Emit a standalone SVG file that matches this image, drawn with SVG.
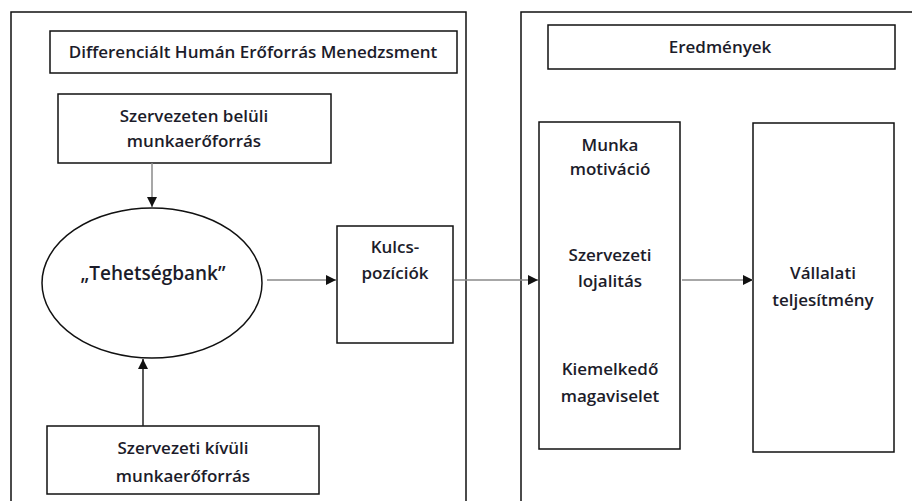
<svg xmlns="http://www.w3.org/2000/svg" width="912" height="501" viewBox="0 0 912 501">
  <style>
    .frame { fill: none; stroke: #111; stroke-width: 1.5; }
    .box { fill: #fff; stroke: #111; stroke-width: 1.5; }
    .lbl { font-family: "Open Sans", "Noto Sans", sans-serif; font-size: 17px; font-weight: 600; fill: #1c1c2a; text-anchor: middle; }
    .big { font-size: 19px; }
    .conn { fill: none; stroke: #8a8a8a; stroke-width: 1.5; marker-end: url(#arrow); }
    .conn.dark { stroke: #222; }
  </style>
  <defs>
    <marker id="arrow" viewBox="0 0 10 10" refX="10" refY="5" markerWidth="10" markerHeight="10" markerUnits="userSpaceOnUse" orient="auto">
      <path d="M0,0 L10,5 L0,10 Z" fill="#111"/>
    </marker>
  </defs>
  <rect width="912" height="501" fill="#fff"/>

  <!-- outer panels -->
  <g id="panel-hr">
    <path class="frame" d="M11,501 V12 H466 V501"/>
  </g>
  <g id="panel-results">
    <path class="frame" d="M521,501 V12 H913"/>
  </g>

  <!-- panel titles -->
  <g id="title-hr">
    <rect class="box" x="50" y="31" width="407" height="42"/>
    <text class="lbl" x="253" y="58">Differenciált Humán Erőforrás Menedzsment</text>
  </g>
  <g id="title-results">
    <rect class="box" x="548" y="25" width="347" height="44"/>
    <text class="lbl" x="720" y="53">Eredmények</text>
  </g>

  <!-- left-panel nodes -->
  <g id="internal-source">
    <rect class="box" x="58" y="94" width="273" height="69"/>
    <text class="lbl" x="194" y="122">Szervezeten belüli</text>
    <text class="lbl" x="194" y="147">munkaerőforrás</text>
  </g>
  <g id="talent-bank">
    <ellipse cx="152" cy="283" rx="110" ry="75" fill="#fff" stroke="#111" stroke-width="1.5"/>
    <text class="lbl big" x="153" y="280">„Tehetségbank”</text>
  </g>
  <g id="key-positions">
    <rect class="box" x="337" y="226" width="116" height="117"/>
    <text class="lbl" x="395" y="253">Kulcs-</text>
    <text class="lbl" x="395" y="279">pozíciók</text>
  </g>
  <g id="external-source">
    <rect class="box" x="47" y="426" width="272" height="68"/>
    <text class="lbl" x="183" y="454">Szervezeti kívüli</text>
    <text class="lbl" x="183" y="482">munkaerőforrás</text>
  </g>

  <!-- right-panel nodes -->
  <g id="outcomes">
    <rect class="box" x="539" y="122" width="141" height="327"/>
    <text class="lbl" x="610" y="151">Munka</text>
    <text class="lbl" x="610" y="175">motiváció</text>
    <text class="lbl" x="610" y="261">Szervezeti</text>
    <text class="lbl" x="610" y="287">lojalitás</text>
    <text class="lbl" x="610" y="375">Kiemelkedő</text>
    <text class="lbl" x="610" y="402">magaviselet</text>
  </g>
  <g id="company-performance">
    <rect class="box" x="753" y="123" width="141" height="329"/>
    <text class="lbl" x="823" y="279">Vállalati</text>
    <text class="lbl" x="823" y="306">teljesítmény</text>
  </g>

  <!-- connectors -->
  <g id="connectors">
    <line class="conn" x1="152" y1="163" x2="152" y2="207"/>
    <line class="conn dark" x1="143" y1="426" x2="143" y2="359"/>
    <line class="conn" x1="267" y1="280" x2="336" y2="280"/>
    <line class="conn" x1="454" y1="280" x2="538" y2="280"/>
    <line class="conn" x1="682" y1="280" x2="753" y2="280"/>
  </g>
</svg>
